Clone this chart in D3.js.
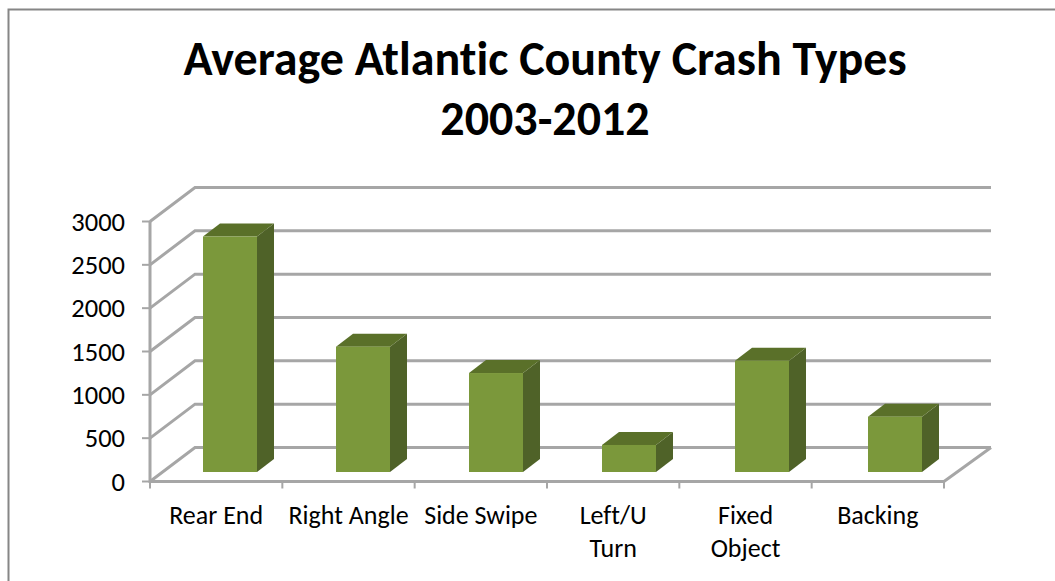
<!DOCTYPE html>
<html><head><meta charset="utf-8">
<script src="https://cdnjs.cloudflare.com/ajax/libs/d3/7.8.5/d3.min.js"></script>
<style>html,body{margin:0;padding:0;background:#fff}svg{display:block}text{font-variant-ligatures:none}</style></head>
<body><svg id="c" width="1055" height="581"></svg>
<script>
const categories = ["Rear End","Right Angle","Side Swipe","Left/U Turn","Fixed Object","Backing"];
const values = [2717,1446,1142,312,1284,638];
const yTicks = [0,500,1000,1500,2000,2500,3000];
const titleLines = ["Average Atlantic County Crash Types","2003-2012"];
const catLines = [["Rear End"],["Right Angle"],["Side Swipe"],["Left/U","Turn"],["Fixed","Object"],["Backing"]];

const W=1055,H=581;
const font="Carlito, Calibri, 'Open Sans', 'Noto Sans', sans-serif";
const svg=d3.select("#c");
const grid="#a6a6a6";
const x=d3.scaleBand().domain(categories).range([150,944]);
const xBar=d3.scaleBand().domain(categories).range([150,948]);
const y=d3.scaleLinear().domain([0,3000]).range([481.5,221.5]);
const dx=45,dy=-34;

svg.append("path").attr("d",`M8.5,${H}V9.5H${W}`).attr("fill","none").attr("stroke","#868686").attr("stroke-width",2);

const t=svg.append("g").attr("font-family",font).attr("font-weight",700).attr("font-size",48).attr("text-anchor","middle").attr("fill","#000");
t.selectAll("text").data(titleLines).join("text").attr("x",545).attr("y",(d,i)=>75+i*60).text(d=>d);

const g=svg.append("g").attr("fill","none").attr("stroke",grid).attr("stroke-width",3);
yTicks.forEach(v=>{
  g.append("path").attr("d",`M${x.range()[0]},${y(v)}L${x.range()[0]+dx},${y(v)+dy}H${x.range()[1]+dx+2}`);
});
g.append("path").attr("d",`M${x.range()[0]},${y(3000)}V${y(0)}H${x.range()[1]}L${x.range()[1]+dx+2},${y(0)+dy}`);
const tk=svg.append("g").attr("stroke",grid).attr("stroke-width",2);
yTicks.forEach(v=>tk.append("line").attr("x1",142).attr("x2",150).attr("y1",y(v)).attr("y2",y(v)));
[...categories.map(c=>x(c)),x.range()[1]].forEach(p=>tk.append("line").attr("x1",p).attr("x2",p).attr("y1",y(0)).attr("y2",y(0)+7));

const bw=54,off=53,bx=17,by=-13,lift=9.5;
const bars=svg.append("g");
categories.forEach((c,i)=>{
  const x0=xBar(c)+off,x1=x0+bw,yb=y(0)-lift,yt=y(values[i])-lift;
  bars.append("path").attr("fill","#4f6228").attr("d",`M${x1},${yt}l${bx},${by}V${yb+by}l${-bx},${-by}Z`);
  bars.append("path").attr("fill","#5a7029").attr("d",`M${x0},${yt}l${bx},${by}H${x1+bx}l${-bx},${-by}Z`);
  bars.append("rect").attr("fill","#7b983b").attr("x",x0).attr("y",yt).attr("width",bw).attr("height",yb-yt);
});

const yl=svg.append("g").attr("font-family",font).attr("font-size",26.5).attr("text-anchor","end").attr("fill","#000");
yTicks.forEach(v=>yl.append("text").attr("x",125).attr("y",y(v)+9).text(v));
const xl=svg.append("g").attr("font-family",font).attr("font-size",26).attr("text-anchor","middle").attr("fill","#000");
categories.forEach((c,i)=>{
  catLines[i].forEach((s,j)=>xl.append("text").attr("x",x(c)+x.bandwidth()/2).attr("y",524+j*33).text(s));
});
</script></body></html>
